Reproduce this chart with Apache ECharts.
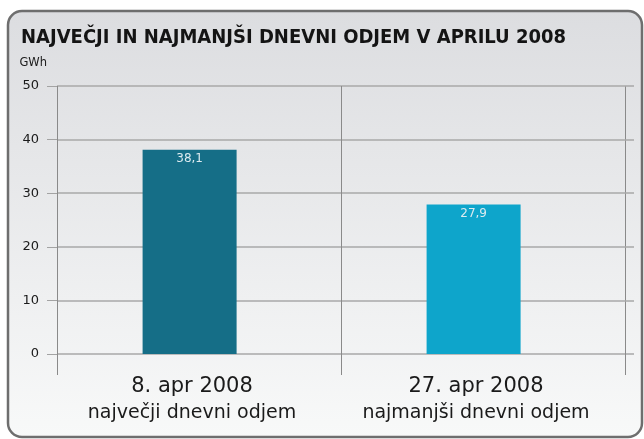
<!DOCTYPE html>
<html>
<head>
<meta charset="utf-8">
<script src="https://cdn.jsdelivr.net/npm/echarts@6/dist/echarts.min.js"></script>
<style>
  html, body { margin: 0; padding: 0; background: #fff; }
  #chart { width: 644px; height: 439px; }
</style>
</head>
<body>
<div id="chart"></div>
<script>
// data
const dates = ['8. apr 2008', '27. apr 2008']
const notes = ['največji dnevni odjem', 'najmanjši dnevni odjem']
const values = [38.1, 27.9]
const barColors = ['#156e87', '#0ea5cb']
const yTicks = [0, 10, 20, 30, 40, 50]

const chart = echarts.init(document.getElementById('chart'))

chart.setOption({
  animation: false,
  graphic: [{
    type: 'rect',
    z: -10,
    shape: { x: 8, y: 11, width: 634, height: 426, r: 14 },
    style: {
      fill: new echarts.graphic.LinearGradient(0, 0, 0, 1, [
        { offset: 0, color: '#dcdde0' },
        { offset: 1, color: '#f8f9f9' }
      ]),
      stroke: '#6e6e6e',
      lineWidth: 2.5
    }
  }],
  title: {
    text: 'NAJVEČJI IN NAJMANJŠI DNEVNI ODJEM V APRILU 2008',
    left: 21,
    top: 28,
    padding: 0,
    textStyle: {
      fontFamily: 'DejaVu Sans Condensed',
      fontWeight: 'bold',
      fontSize: 20,
      color: '#141414'
    }
  },
  grid: { left: 57, right: 19, top: 86, bottom: 85 },
  xAxis: [{
    type: 'category',
    data: dates,
    boundaryGap: true,
    axisLine: { show: false },
    axisTick: { show: true, length: 21, lineStyle: { color: '#8a8a8a' } },
    splitLine: { show: true, lineStyle: { color: '#8a8a8a', width: 1 } },
    axisLabel: {
      margin: 19,
      interval: 0,
      padding: [0, 14, 0, 0],
      formatter: (v, i) => '{a|' + v + '}\n{b|' + notes[i] + '}',
      rich: {
        a: { fontFamily: 'DejaVu Sans', fontSize: 21, color: '#1a1a1a', lineHeight: 27 },
        b: { fontFamily: 'DejaVu Sans', fontSize: 19, color: '#1a1a1a', lineHeight: 27 }
      }
    }
  }, {
    type: 'category',
    position: 'top',
    data: dates,
    boundaryGap: true,
    axisLine: { show: false },
    axisTick: { show: true, length: 18, lineStyle: { color: '#8a8a8a' } },
    axisLabel: { show: false }
  }],
  yAxis: [{
    type: 'value',
    min: yTicks[0],
    max: yTicks[yTicks.length - 1],
    interval: 10,
    name: 'GWh',
    nameLocation: 'end',
    nameGap: 17,
    nameTextStyle: {
      fontFamily: 'DejaVu Sans',
      fontSize: 11.5,
      color: '#1a1a1a',
      align: 'right',
      padding: [0, 10, 0, 0]
    },
    axisLine: { show: false },
    axisTick: { show: true, length: 10, lineStyle: { color: '#a3a3a3' } },
    splitLine: { show: true, lineStyle: { color: '#a8a8a8', width: 1.5 } },
    axisLabel: {
      margin: 18,
      fontFamily: 'DejaVu Sans',
      fontSize: 13,
      color: '#1a1a1a'
    }
  }, {
    type: 'value',
    position: 'right',
    min: yTicks[0],
    max: yTicks[yTicks.length - 1],
    interval: 10,
    axisLine: { show: false },
    axisTick: { show: true, length: 9, lineStyle: { color: '#a8a8a8', width: 1.5 } },
    splitLine: { show: false },
    axisLabel: { show: false }
  }],
  series: [{
    type: 'bar',
    barWidth: 94,
    barGap: '-80%',
    data: values.map((v, i) => ({ value: v, itemStyle: { color: barColors[i] } })),
    label: {
      show: true,
      position: 'insideTop',
      distance: 3,
      formatter: p => String(p.value).replace('.', ','),
      fontFamily: 'DejaVu Sans',
      fontSize: 12,
      color: '#dcebf0'
    }
  }, {
    // empty companion series, only shifts the bars a little left like the original
    type: 'bar',
    barWidth: 94,
    data: values.map(() => null)
  }]
})
</script>
</body>
</html>
